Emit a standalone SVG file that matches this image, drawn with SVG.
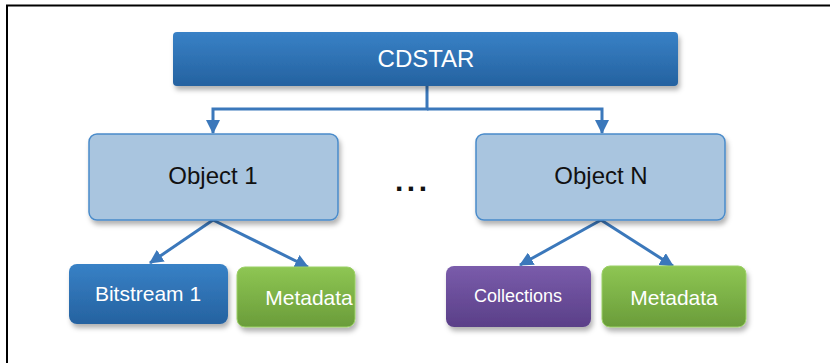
<svg xmlns="http://www.w3.org/2000/svg" width="830" height="363" viewBox="0 0 830 363">
<defs>
<linearGradient id="gBlue" x1="0" y1="0" x2="0" y2="1"><stop offset="0" stop-color="#3881c6"/><stop offset="1" stop-color="#2562a0"/></linearGradient>
<linearGradient id="gGreen" x1="0" y1="0" x2="0" y2="1"><stop offset="0" stop-color="#8ec653"/><stop offset="1" stop-color="#6a9c3a"/></linearGradient>
<linearGradient id="gPurple" x1="0" y1="0" x2="0" y2="1"><stop offset="0" stop-color="#7a5cab"/><stop offset="1" stop-color="#5a3f88"/></linearGradient>
<filter id="sh" x="-10%" y="-20%" width="125%" height="150%"><feDropShadow dx="2" dy="4" stdDeviation="2.5" flood-color="#000" flood-opacity="0.3"/></filter>
<marker id="ah" markerWidth="14" markerHeight="14" viewBox="0 0 14 14" refX="13" refY="7" orient="auto" markerUnits="userSpaceOnUse"><path d="M0,0 L14,7 L0,14 z" fill="#3b78bb"/></marker>
<style>
.lbl{font-family:"Liberation Sans",Arial,sans-serif;text-anchor:middle}
.w{fill:#ffffff}
.k{fill:#111111}
.con{fill:none;stroke:#3b78bb;stroke-width:3}
.obj{fill:#a9c5df;stroke:#4a8bca;stroke-width:1.5}
</style>
</defs>
<rect width="830" height="363" fill="#ffffff"/>
<path d="M7,363 V5.5 H830" fill="none" stroke="#000" stroke-width="2"/>
<g id="connectors">
<path class="con" d="M427,86 V109 H213 V133" marker-end="url(#ah)"/>
<path class="con" d="M427,109 H602 V133" marker-end="url(#ah)"/>
<path class="con" d="M213,220 L150,263" marker-end="url(#ah)"/>
<path class="con" d="M213,220 L308,267" marker-end="url(#ah)"/>
<path class="con" d="M601,220 L520,265" marker-end="url(#ah)"/>
<path class="con" d="M601,220 L673,266" marker-end="url(#ah)"/>
</g>
<g id="cdstar">
<rect x="173" y="32" width="505" height="54" rx="4" fill="url(#gBlue)" filter="url(#sh)"/>
<text class="lbl w" x="426" y="67" font-size="24">CDSTAR</text>
</g>
<g id="object1">
<rect class="obj" x="89" y="134" width="249" height="86" rx="8" filter="url(#sh)"/>
<text class="lbl k" x="213" y="184" font-size="24">Object 1</text>
</g>
<g id="objectN">
<rect class="obj" x="476" y="134" width="249" height="86" rx="8" filter="url(#sh)"/>
<text class="lbl k" x="601" y="184" font-size="24">Object N</text>
</g>
<g id="ellipsis">
<text x="395" y="191" font-family="Liberation Sans,Arial,sans-serif" font-size="30" font-weight="bold" letter-spacing="3.5" fill="#111">...</text>
</g>
<g id="bitstream1">
<rect x="69" y="264" width="159" height="60" rx="8" fill="url(#gBlue)" filter="url(#sh)"/>
<text class="lbl w" x="148" y="301" font-size="21">Bitstream 1</text>
</g>
<g id="metadata1">
<rect x="237" y="267" width="118" height="60" rx="8" fill="url(#gGreen)" stroke="#9bd066" stroke-width="1" filter="url(#sh)"/>
<text class="lbl w" x="309" y="305" font-size="21">Metadata</text>
</g>
<g id="collections">
<rect x="446" y="266" width="145" height="61" rx="8" fill="url(#gPurple)" filter="url(#sh)"/>
<text class="lbl w" x="518" y="302" font-size="18">Collections</text>
</g>
<g id="metadataN">
<rect x="602" y="266" width="144" height="61" rx="8" fill="url(#gGreen)" stroke="#9bd066" stroke-width="1" filter="url(#sh)"/>
<text class="lbl w" x="674" y="305" font-size="21">Metadata</text>
</g>
</svg>
